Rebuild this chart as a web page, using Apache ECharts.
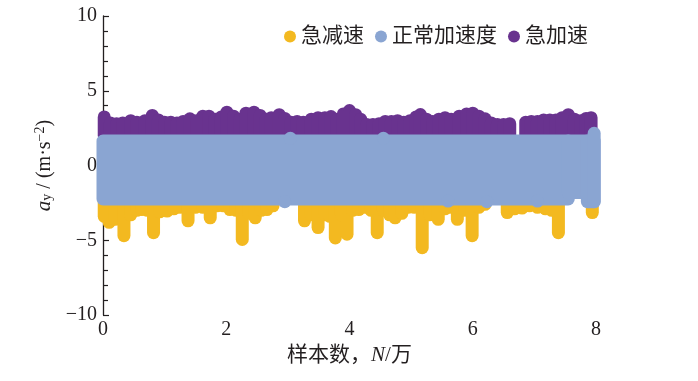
<!DOCTYPE html>
<html><head><meta charset="utf-8">
<script src="https://cdn.jsdelivr.net/npm/echarts@6/dist/echarts.min.js"></script>
<style>html,body{margin:0;padding:0;background:#fff}#c{width:698px;height:381px}</style>
</head><body><div id="c"></div>
<script>
// ---- data (x in 万 samples, y in m·s^-2) ----
const seriesNames = ['急减速', '正常加速度', '急加速'];
const seriesColors = ['#F3B920', '#8AA5D2', '#69338F'];

// 急减速: lower envelope of the hard-braking points [x, a_y]
const decelBase = -2.3;
const decelPeaks = [
  [0.02,-3.4],[0.1,-3.8],[0.2,-3.6],[0.34,-4.7],[0.45,-3.3],[0.55,-3.0],[0.63,-2.95],[0.72,-3.0],
  [0.82,-4.5],[0.92,-3.1],[1.04,-3.05],[1.15,-2.9],[1.25,-2.8],[1.38,-3.7],[1.5,-2.8],[1.62,-2.8],
  [1.74,-3.5],[1.85,-2.7],[1.95,-2.7],[2.06,-2.95],[2.16,-3.0],[2.26,-4.95],[2.37,-3.2],[2.47,-3.5],
  [2.57,-3.0],[2.66,-2.95],[2.76,-2.7],[3.27,-3.7],[3.37,-3.3],[3.49,-4.15],[3.6,-3.3],[3.68,-3.4],
  [3.77,-4.85],[3.87,-3.3],[3.96,-4.6],[4.05,-3.0],[4.15,-2.95],[4.25,-2.8],[4.35,-3.0],[4.45,-4.5],
  [4.55,-3.0],[4.65,-3.3],[4.74,-3.5],[4.85,-3.2],[4.95,-2.8],[5.05,-2.8],[5.18,-5.5],[5.3,-3.3],
  [5.44,-3.6],[5.55,-2.9],[5.65,-2.8],[5.75,-3.6],[5.87,-3.0],[5.99,-4.7],[6.1,-2.8],[6.2,-2.6],
  [6.56,-3.15],[6.68,-2.9],[6.8,-2.85],[6.92,-2.7],[7.05,-2.8],[7.18,-2.9],[7.28,-3.0],[7.39,-4.5],
  [7.94,-3.15]
];

// 急加速: upper envelope of the hard-acceleration points [x, a_y]
const accelBase = 2.0;
const accelPeaks = [
  [0.02,3.25],[0.12,2.85],[0.22,2.8],[0.32,2.85],[0.45,3.0],[0.55,2.9],[0.68,3.0],[0.8,3.35],
  [0.9,3.05],[1.0,2.9],[1.1,2.9],[1.2,2.85],[1.3,2.95],[1.41,3.12],[1.52,3.0],[1.62,3.3],
  [1.72,3.3],[1.82,3.1],[1.92,3.25],[2.01,3.57],[2.12,3.3],[2.22,3.1],[2.32,3.5],[2.45,3.57],
  [2.55,3.35],[2.65,3.1],[2.73,3.2],[2.86,3.4],[2.95,3.15],[3.05,2.9],[3.15,2.95],[3.25,2.9],
  [3.38,3.1],[3.49,3.2],[3.6,3.2],[3.7,3.27],[3.8,3.1],[3.9,3.45],[4.0,3.68],[4.1,3.4],
  [4.18,3.1],[4.28,2.75],[4.38,2.75],[4.48,2.8],[4.58,2.95],[4.68,2.95],[4.78,3.0],[4.88,2.9],
  [4.98,3.0],[5.08,3.25],[5.15,3.41],[5.25,3.1],[5.35,2.95],[5.45,3.1],[5.55,3.2],[5.65,3.1],
  [5.78,3.3],[5.9,3.45],[6.0,3.5],[6.1,3.3],[6.2,3.12],[6.3,2.85],[6.4,2.75],[6.5,2.75],
  [6.6,2.8],[6.86,2.9],[6.95,2.95],[7.05,2.95],[7.15,3.05],[7.25,3.05],[7.35,3.05],[7.45,3.2],
  [7.55,3.4],[7.65,3.1],[7.75,3.0],[7.84,3.15],[7.92,3.2]
];

// 正常加速度: dense band, runs [xStart, xEnd, a_y low, a_y high] (single points have equal ends)
const normalRuns = [
  [0, 7.55, -2.24, 1.64],
  [7.55, 7.86, -1.8, 1.64],
  [7.86, 7.97, -2.42, 1.64],
  [7.97, 7.97, -2.42, 2.15],
  [3.04, 3.04, 1.82, 1.82],
  [4.55, 4.55, 1.82, 1.82],
  [2.95, 2.95, -2.42, -2.42],
  [6.23, 6.23, -2.42, -2.42],
  [7.05, 7.05, -2.38, -2.38],
  [5.6, 5.6, -2.38, -2.38]
];

const xTickValues = [0, 2, 4, 6, 8];
const yTickValues = [-10, -5, 0, 5, 10];

// ---- chart ----
const R = 6.5; // marker radius in px
function renderBlob(params, api) {
  const pA = api.coord([api.value(0), api.value(2)]);
  const pB = api.coord([api.value(1), api.value(3)]);
  const left = Math.min(pA[0], pB[0]) - R, right = Math.max(pA[0], pB[0]) + R;
  const top = Math.min(pA[1], pB[1]) - R, bottom = Math.max(pA[1], pB[1]) + R;
  return {
    type: 'rect',
    shape: { x: left, y: top, width: right - left, height: bottom - top, r: R },
    style: { fill: api.visual('color') }
  };
}

const ink = '#231f20';
const serif = "'Liberation Serif','Times New Roman','Noto Sans CJK SC',serif";
const cjk = "'Liberation Serif','Noto Sans CJK SC',serif";

const chart = echarts.init(document.getElementById('c'), null, { renderer: 'canvas' });
chart.setOption({
  animation: false,
  backgroundColor: '#fff',
  grid: { left: 103, right: 102, top: 16, bottom: 66 },
  legend: {
    data: seriesNames,
    left: 279, top: 21,
    icon: 'circle', itemWidth: 12, itemHeight: 12, itemGap: 11,
    textStyle: { fontSize: 21, fontFamily: cjk, color: ink }
  },
  xAxis: {
    type: 'value', min: xTickValues[0], max: xTickValues[xTickValues.length - 1], interval: 2,
    axisLine: { lineStyle: { color: ink, width: 1.3 } },
    axisTick: { inside: true, length: 6, lineStyle: { color: ink, width: 1.2 } },
    minorTick: { show: true, splitNumber: 2, length: 4, lineStyle: { color: ink, width: 1.2 } },
    splitLine: { show: false },
    axisLabel: { fontSize: 20, fontFamily: serif, color: ink, margin: 5 },
    name: '样本数，{i|N}/万', nameLocation: 'middle', nameGap: 30,
    nameTextStyle: { fontSize: 21, fontFamily: cjk, color: ink,
      rich: { i: { fontSize: 21, fontFamily: serif, fontStyle: 'italic', color: ink } } }
  },
  yAxis: {
    type: 'value', min: yTickValues[0], max: yTickValues[yTickValues.length - 1], interval: 5,
    axisLine: { show: true, lineStyle: { color: ink, width: 1.3 } },
    axisTick: { show: true, inside: true, length: 6, lineStyle: { color: ink, width: 1.2 } },
    minorTick: { show: true, splitNumber: 5, length: 5, lineStyle: { color: ink, width: 1.2 } },
    splitLine: { show: false },
    axisLabel: { fontSize: 20, fontFamily: serif, color: ink, margin: 6,
      formatter: v => (v < 0 ? '\u2212' + Math.abs(v) : String(v)) },
    name: '{i|a}{sub|y}{n| / (m·s}{sup|\u22122}{n|)}',
    nameLocation: 'middle', nameRotate: 90, nameGap: 45,
    nameTextStyle: {
      color: ink, fontFamily: serif, fontSize: 20,
      rich: {
        i: { fontSize: 21, fontFamily: serif, fontStyle: 'italic', color: ink, lineHeight: 21 },
        n: { fontSize: 20, fontFamily: serif, color: ink, lineHeight: 21 },
        sub: { fontSize: 14, fontFamily: serif, color: ink, lineHeight: 4, verticalAlign: 'bottom' },
        sup: { fontSize: 14, fontFamily: serif, color: ink, lineHeight: 6, verticalAlign: 'top' }
      }
    }
  },
  series: [
    {
      name: seriesNames[0], type: 'custom', clip: false, z: 2,
      itemStyle: { color: seriesColors[0] },
      renderItem: renderBlob, encode: { x: [0, 1], y: [2, 3] },
      data: decelPeaks.map(p => [p[0], p[0], decelBase, p[1]])
    },
    {
      name: seriesNames[2], type: 'custom', clip: false, z: 2,
      itemStyle: { color: seriesColors[2] },
      renderItem: renderBlob, encode: { x: [0, 1], y: [2, 3] },
      data: accelPeaks.map(p => [p[0], p[0], accelBase, p[1]])
    },
    {
      name: seriesNames[1], type: 'custom', clip: false, z: 3,
      itemStyle: { color: seriesColors[1] },
      renderItem: renderBlob, encode: { x: [0, 1], y: [2, 3] },
      data: normalRuns
    }
  ]
});
</script></body></html>
